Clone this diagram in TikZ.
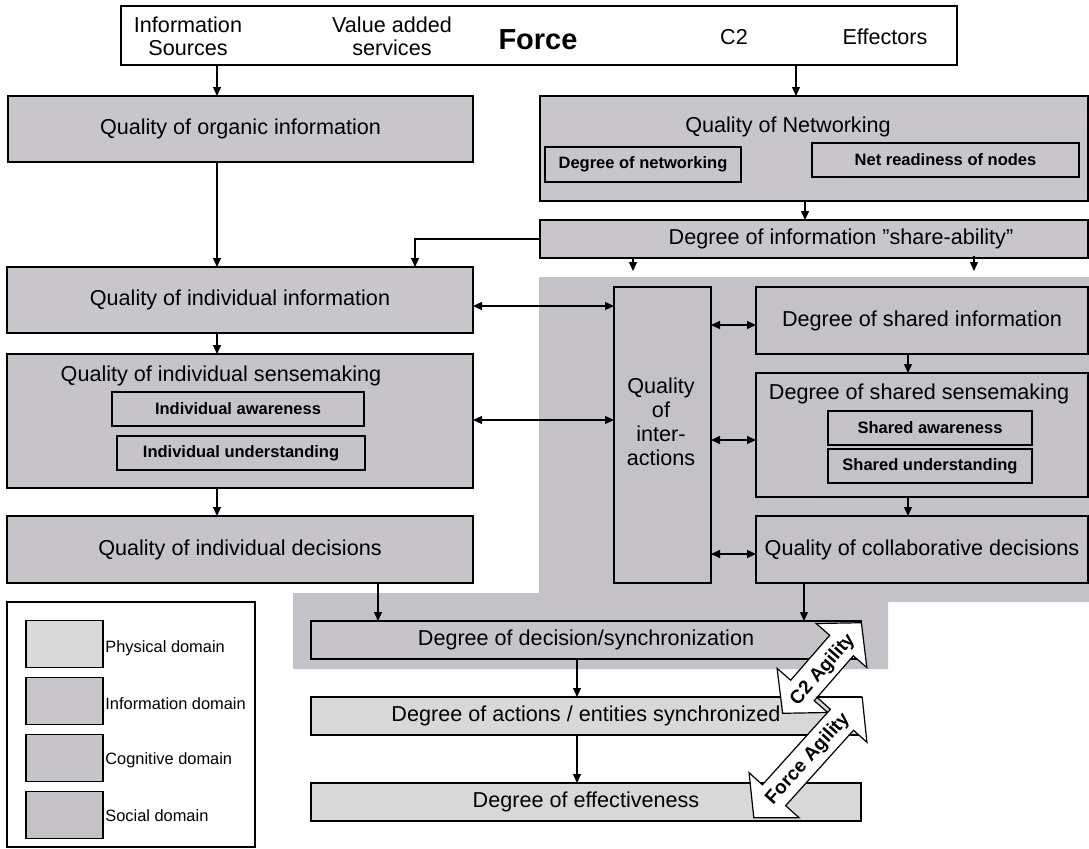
\documentclass[tikz,border=0pt]{standalone}
\usepackage{fontspec}
\setmainfont{Liberation Sans}
\usepackage{tikz}
\usetikzlibrary{arrows.meta}
\usetikzlibrary{shapes.arrows}

\definecolor{physc}{RGB}{216,216,216}
\definecolor{infoc}{RGB}{200,198,202}
\definecolor{cogc}{RGB}{198,196,200}
\definecolor{socc}{RGB}{196,194,198}

\begin{document}
\begin{tikzpicture}[x=0.5pt,y=-0.5pt,
       >={Triangle[length=4.5pt,width=4pt]},
       every node/.append style={font=\fontsize{10.8}{11.5}\selectfont},
       sz/.style 2 args={minimum width=#1*0.5pt,minimum height=#2*0.5pt},
       box/.style={draw,fill=infoc,line width=0.6pt,inner sep=0pt,outer sep=0pt},
       subbox/.style={draw,line width=0.6pt,inner sep=0pt,outer sep=0pt,font=\fontsize{8.25}{10}\selectfont\bfseries},
       link/.style={->,line width=0.6pt},
       both/.style={<->,line width=0.6pt},
       agil/.style={double arrow,draw,fill=white,line width=0.6pt,inner xsep=0pt,inner ysep=7.5pt,
              double arrow head extend=9pt,double arrow tip angle=96},
       agfont/.style={font=\fontsize{9.5}{10}\selectfont\bfseries},
       leg/.style={anchor=west,inner sep=0pt,font=\fontsize{8.2}{10}\selectfont}]
       
       \useasboundingbox (0,0) rectangle (1089,848);
       
       %social domain
       \fill[socc] (539,277) -- (1089,277) -- (1089,602) -- (888,602) -- (888,669)
       -- (293,669) -- (293,593) -- (539,593) -- cycle;
       
       %force
       \node (force) [draw,line width=1.4pt,inner sep=0pt,outer sep=0pt,sz={836}{59}] at (539,35.5) {};
       \node (infosrc) [align=center] at (188,36) {Information\\Sources};
       \node (valadd) [align=center] at (392,36) {Value added\\services};
       \node (forcelbl) [font=\fontsize{14.5}{16}\selectfont\bfseries] at (538,40) {Force};
       \node (ctwo) at (734,37) {C2};
       \node (effect) at (885,37) {Effectors};
       
       %left column
       \node (organic) [box,sz={465}{66}] at (240.5,129) {Quality of organic information};
       \node (indinfo) [box,sz={466}{66}] at (240,300) {Quality of individual information};
       \node (sense) [box,fill=cogc,sz={466}{134}] at (240,421) {};
       \node (senselbl) at (221,376) {Quality of individual sensemaking};
       \node (indaware) [subbox,sz={252}{34}] at (238,409) {Individual awareness};
       \node (indunder) [subbox,sz={248}{34}] at (241,453) {Individual understanding};
       \node (decis) [box,fill=cogc,sz={466}{67}] at (240,549.5) {Quality of individual decisions};
       
       %right column
       \node (network) [box,sz={548}{105}] at (814,148.5) {};
       \node (netlbl) at (788,127) {Quality of Networking};
       \node (degnet) [subbox,sz={196}{35}] at (643,164.5) {Degree of networking};
       \node (netready) [subbox,sz={267}{34}] at (945.5,160) {Net readiness of nodes};
       \node (share) [box,sz={548}{38}] at (814,239) {};
       \node (sharelbl) at (841,239) {Degree of information ”share-ability”};
       
       \node (inter) [box,fill=socc,sz={97}{296}] at (662.5,435) {};
       \node (interlbl) [align=center,font=\fontsize{10.8}{12}\selectfont] at (661,422) {Quality\\of\\inter-\\actions};
       \node (shinfo) [box,fill=socc,sz={332}{67}] at (922,320.5) {Degree of shared information};
       \node (shsense) [box,fill=socc,sz={332}{124}] at (922,435) {};
       \node (shsenselbl) at (919,394) {Degree of shared sensemaking};
       \node (shaware) [subbox,sz={204}{34}] at (930,428) {Shared awareness};
       \node (shunder) [subbox,sz={204}{34}] at (930,466) {Shared understanding};
       \node (collab) [box,fill=socc,sz={332}{67}] at (922,549.5) {Quality of collaborative decisions};
       
       %bottom
       \node (sync) [box,fill=cogc,sz={550}{38}] at (586,640) {Degree of decision/synchronization};
       \node (actions) [box,fill=physc,sz={550}{38}] at (586,716) {Degree of actions / entities synchronized};
       \node (effectiv) [box,fill=physc,sz={550}{38}] at (586,802) {Degree of effectiveness};
       
       %arrows
       \coordinate (lcol) at (217,0);
       \coordinate (elb) at (415,0);
       \coordinate (sa) at (633,271);
       \coordinate (sb) at (974,271);
       \draw[link] (force.south -| lcol) -- (organic.north -| lcol);
       \draw[link] (organic.south -| lcol) -- (indinfo.north -| lcol);
       \draw[link] (indinfo.south -| lcol) -- (sense.north -| lcol);
       \draw[link] (sense.south -| lcol) -- (decis.north -| lcol);
       \draw[link] (force.south -| 796,0) -- (network.north -| 796,0);
       \draw[link] (network.south -| 805,0) -- (share.north -| 805,0);
       \draw[link] (share.west) -| (indinfo.north -| elb);
       \draw[link] (share.south -| sa) -- (sa);
       \draw[link] (sharelbl.south -| sb) -- (sb);
       
       \draw[both] (indinfo.east |- 0,306) -- (inter.west |- 0,306);
       \draw[both] (sense.east |- 0,420) -- (inter.west |- 0,420);
       \draw[both] (inter.east |- 0,325) -- (shinfo.west |- 0,325);
       \draw[both] (inter.east |- 0,440) -- (shsense.west |- 0,440);
       \draw[both] (inter.east |- 0,554) -- (collab.west |- 0,554);
       \draw[link] (shinfo.south -| 908,0) -- (shsense.north -| 908,0);
       \draw[link] (shsense.south -| 908,0) -- (collab.north -| 908,0);
       
       \draw[link] (decis.south -| 378,0) -- (sync.north -| 378,0);
       \draw[link] (collab.south -| 804,0) -- (sync.north -| 804,0);
       \draw[link] (sync.south -| 577,0) -- (actions.north -| 577,0);
       \draw[link] (actions.south -| 577,0) -- (effectiv.north -| 577,0);
       
       %agility
       \node (ctwoag) [agil,minimum height=60pt,rotate=49] at (822,668) {};
       \node (ctwoaglbl) [agfont,rotate=49] at (823,670) {C2 Agility};
       \node (forceag) [agil,minimum height=81pt,rotate=48] at (808,757.5) {};
       \node (forceaglbl) [agfont,rotate=48] at (808,759) {Force Agility};
       
       %legend
       \node (legend) [draw,line width=0.6pt,sz={248}{245}] at (131,724.5) {};
       \foreach \c/\t [count=\i] in {physc/Physical domain,infoc/Information domain,cogc/Cognitive domain,socc/Social domain} {
       	\node (sw\i) [draw,fill=\c,line width=0.6pt,sz={77}{47}] at (64.5,587+57*\i) {};
       	\node (lg\i) [leg] at (105,592+56*\i) {\t};
       }
       
\end{tikzpicture}
\end{document}
